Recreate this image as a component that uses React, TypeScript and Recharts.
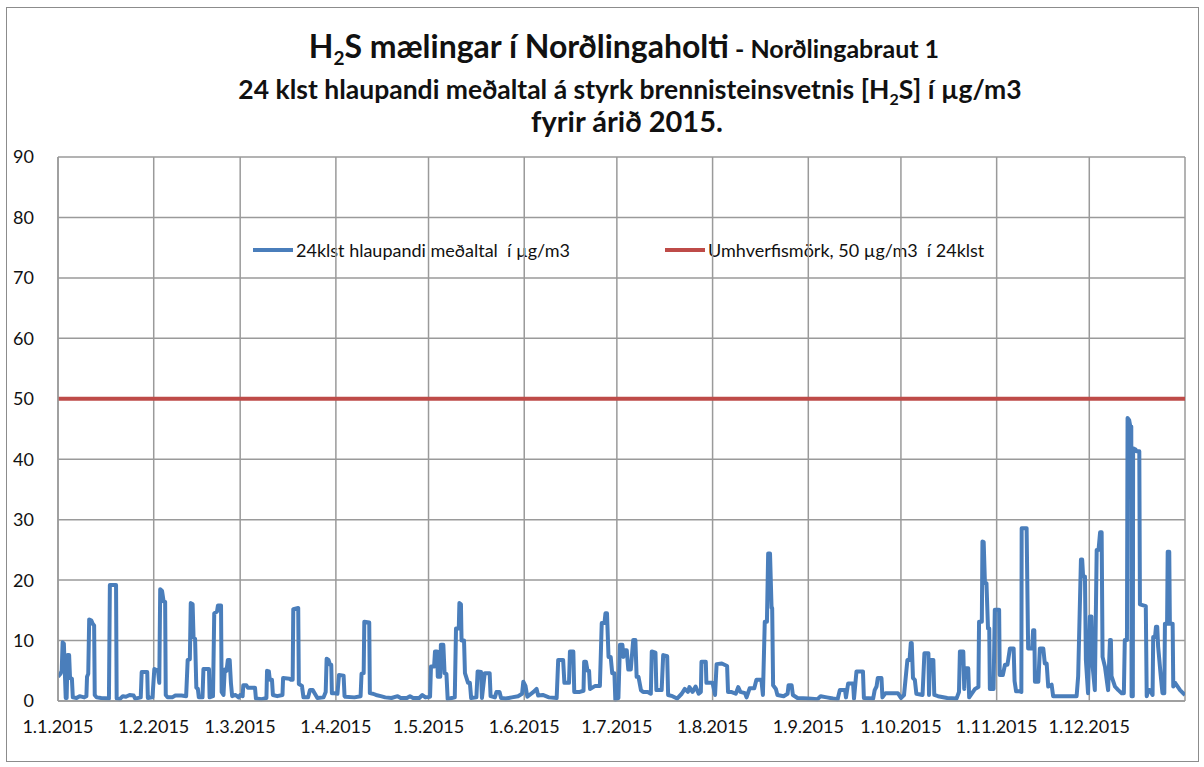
import React from 'react';
import { LineChart, Line, XAxis, YAxis, CartesianGrid } from 'recharts';

// x = day of year 2015 (0 = 1 January), y = 24 h running mean of H2S in µg/m3
const q1: [number, number][] = [
  [0, 4], [0.8, 4.5], [1.2, 5], [1.5, 9.7], [1.9, 9.5], [2.2, 5], [2.5, 0.5], [2.8, 0.5], [3.1, 7.6], [3.6, 7.6],
  [3.9, 3.8], [4.5, 3.7], [4.8, 0.6], [6, 0.5], [7, 0.8], [8.5, 0.6], [9.2, 0.8], [9.4, 4], [9.8, 4.5], [10.1, 13.5],
  [10.8, 13.3], [11.2, 12.8], [11.7, 12.5], [11.9, 1], [12.5, 0.6], [14, 0.5], [16.5, 0.4], [16.8, 19.2], [18.8, 19.2],
  [19.0, 0.4], [20, 0.3], [21, 0.8], [22, 0.7], [23.2, 1.0], [24.5, 0.9], [25, 0.4], [26.8, 0.6], [27.1, 4.8],
  [28.9, 4.8], [29.1, 0.5], [30.6, 0.6], [31.2, 5.3], [32.4, 5], [32.8, 3], [33.1, 18.5], [33.7, 18.2], [34.2, 16.5],
  [34.7, 16.4], [34.9, 1], [35.5, 0.6], [37, 0.6], [38, 0.9], [40, 0.9], [41.5, 0.8], [42, 6.8], [42.7, 6.9], [43, 16.2],
  [43.6, 16], [43.9, 10.5], [44.4, 10.3], [44.8, 2.2], [45.3, 2], [45.6, 0.6], [46.8, 0.6], [47.1, 5.3], [48.9, 5.3],
  [49.1, 0.6], [50.2, 0.8], [50.6, 14.5], [51.5, 14.8], [51.8, 15.8], [52.8, 15.8], [53, 1.5], [53.6, 1], [54, 5.2],
  [54.6, 5], [55, 6.8], [55.6, 6.8], [56, 3], [56.4, 0.8], [57.5, 1], [58.5, 0.6], [59, 1], [59.8, 0.8], [60, 2.6],
  [61, 2.6], [61.5, 2.2], [63.8, 2.2], [64.1, 0.4], [66, 0.3], [67.5, 0.5], [67.7, 5], [68.3, 4.9], [68.6, 3.5],
  [69.3, 3.5], [69.6, 1], [71, 0.8], [72.7, 1], [72.9, 3.8], [75, 3.7], [75.5, 3.5], [76, 3.5], [76.2, 15.2],
  [77.8, 15.4], [78, 2.8], [79, 2.5], [79.5, 0.6], [81, 0.6], [81.6, 1.8], [82.5, 1.8], [83.2, 1.2], [84, 0.5],
  [86, 0.6], [86.7, 1.5], [87, 7], [87.6, 6.8], [88.1, 6], [88.5, 6], [88.7, 1.3], [89.5, 1.3],
];

const q2: [number, number][] = [
  [90.5, 1.2], [91, 4.3], [92.5, 4.2], [92.8, 0.8], [93, 0.7], [96, 0.6], [98, 0.8], [98.3, 4.5], [99, 4.6], [99.2, 13.1],
  [100.8, 13], [101, 1.3], [102, 1.2], [103, 1.0], [104.5, 0.8], [106, 0.6], [108, 0.5], [110, 0.8], [111, 0.5],
  [113, 0.5], [114, 0.8], [115, 0.5], [117, 0.5], [118, 1], [119, 0.6], [120.5, 0.7], [120.8, 5.7], [121.8, 5.7],
  [122.1, 8.2], [122.8, 8.2], [123, 4], [123.8, 4], [124, 9.3], [124.8, 9.3], [125.2, 4.6], [125.8, 4.5], [126.2, 0.3],
  [127.5, 0.5], [128.5, 0.6], [128.9, 12], [129.8, 12], [130, 16.2], [130.5, 16], [130.7, 10], [131.5, 10], [131.8, 4.6],
  [132.8, 3], [133.4, 3], [133.8, 0.5], [135.5, 0.6], [135.9, 4.9], [137, 4.8], [137.3, 0.5], [138.2, 4.6], [139.8, 4.6],
  [140.1, 0.8], [141.5, 0.6], [142, 1.5], [143, 1.5], [143.5, 0.5], [145, 0.4], [147, 0.6], [149, 0.8], [150.3, 1.2],
  [150.7, 3.2], [151.4, 2.5], [152, 0.7], [154, 1.5], [155, 2], [155.5, 0.9], [157, 1], [159, 0.6], [161.5, 0.5],
  [162, 6.8], [163.6, 6.8], [164, 3], [165.5, 3], [165.8, 8.2], [166.9, 8.2], [167.2, 1.5], [169, 1.5], [170.2, 1.7],
  [170.4, 6.5], [171, 6.5], [171.5, 5], [172, 5], [172.3, 2], [174, 2.5], [175.5, 2.5], [176.1, 12.9], [177, 12.9],
  [177.3, 14.5], [177.8, 14.5], [178.3, 7.3], [179, 7.3], [179.5, 4.6], [180.2, 4.6], [180.5, 0.2],
];

const q3: [number, number][] = [
  [181.5, 0.5], [182, 9.3], [182.8, 9.3], [183.1, 7.3], [183.5, 8.4], [184.2, 8.4], [184.7, 5.2], [185.5, 5.2],
  [186.3, 10.1], [187, 10.1], [187.4, 4], [188, 4], [188.8, 1.8], [189.5, 1.5], [191, 1.5], [192, 1.2], [192.3, 8.2],
  [193.5, 8], [193.8, 1.8], [195.5, 1.8], [196, 7.6], [197.3, 7.4], [197.6, 1], [199, 0.8], [200.5, 0.4], [202, 1.2],
  [203, 2], [204, 1.5], [204.5, 2.3], [205.5, 1.5], [206.5, 2.4], [207.5, 1.2], [208.2, 1.5], [208.4, 6.5], [209.8, 6.5],
  [210, 3], [212, 3], [212.8, 1], [213.3, 6.1], [215, 6.2], [216.7, 5.8], [217, 1.5], [218, 1.5], [219.5, 1.2],
  [220.3, 2.3], [221, 1.5], [222.5, 1.3], [223, 0.6], [224, 2.1], [225.5, 2.1], [226.2, 3.5], [227.8, 3.5], [228.3, 1],
  [228.9, 13.1], [229.6, 13.1], [230, 24.4], [230.6, 24.4], [231.1, 15.4], [231.3, 15.4], [231.6, 2.6], [232.5, 2],
  [233, 1], [235, 0.8], [236.3, 1.2], [236.6, 2.6], [237.6, 2.6], [238, 1], [239.5, 0.5], [243, 0.4], [246, 0.3],
  [247, 0.8], [249, 0.6], [251, 0.4], [252.5, 0.3], [253.2, 1.8], [254.9, 1.8], [255.2, 0.6], [255.9, 2.9], [257.5, 2.9],
  [257.8, 0.4], [258.6, 4.9], [260.7, 4.9], [261, 0.5], [264, 0.4], [264.5, 1.8], [265.1, 2.4], [265.5, 3.8],
  [266.7, 3.8], [267, 0.6], [268, 1.3], [272, 1.3],
];

const q4: [number, number][] = [
  [273, 0.5], [274, 1], [275.1, 6.8], [275.8, 6.8], [276.2, 9.6], [276.5, 9.6], [276.9, 3.8], [277.5, 3.5], [278, 1.2],
  [280, 1], [280.6, 7.9], [281.9, 7.9], [282.1, 1], [282.4, 6.8], [283.5, 6.8], [283.8, 1], [285, 0.8], [288, 0.5],
  [291, 0.4], [291.8, 1.5], [292.1, 8.2], [293.2, 8.2], [293.5, 2], [293.7, 5.4], [294.8, 5.4], [295.1, 0.6], [297, 2],
  [298.1, 2.3], [298.3, 13.1], [299.2, 13.1], [299.4, 26.4], [299.8, 26.3], [300.2, 19.5], [300.7, 19.5], [301.2, 12],
  [301.6, 12], [301.8, 2], [303, 2], [303.4, 15.1], [304.8, 15.1], [305, 4.3], [306, 4.3], [306.7, 6], [307.5, 6],
  [308.3, 8.7], [309.5, 8.7], [309.8, 3.3], [310.3, 1.6], [311.5, 1.6], [312, 1.5], [312.1, 28.6], [313.7, 28.6],
  [314.2, 8.7], [315.5, 8.7], [315.8, 11.7], [316.2, 11.7], [316.4, 3.2], [317.5, 3.2], [318, 8.7], [319.1, 8.7],
  [319.6, 6.2], [320.2, 6.2], [320.7, 2.4], [321.8, 2.7], [322.3, 0.8], [329.9, 0.8], [330.4, 4.1], [331.3, 23.4],
  [331.7, 23.4], [332, 20.6], [332.6, 20.6], [332.9, 6.8], [333.6, 1.3], [334.2, 14], [334.7, 14], [335, 6.2],
  [335.8, 1.8], [336.4, 25], [337, 25], [337.5, 27.9], [338, 27.9], [338.3, 7.3], [339.1, 5.6], [340.1, 1.8],
  [340.7, 10.1], [341, 10.1], [341.2, 4.1], [342.3, 2.4], [343.4, 1.8], [344.5, 1.3], [345.2, 1.3], [345.5, 10.1],
  [346.2, 10.1], [346.4, 46.8], [346.9, 46.5], [347.3, 45.4], [347.6, 45.4], [347.7, 0.8], [348.1, 0.8], [348.2, 41.8],
  [349, 41.6], [349.3, 41.3], [350.2, 41.3], [350.4, 16], [352.3, 15.7], [352.6, 0.8], [353.1, 1.8], [353.6, 1.8],
  [354.5, 1], [354.7, 10.6], [355.3, 10.6], [355.6, 12.3], [356, 12.3], [356.3, 9], [357.1, 4.4], [357.7, 1.3],
  [358.3, 1.3], [358.5, 12.8], [359.2, 12.8], [359.4, 24.7], [359.9, 24.7], [360.1, 12.8], [361, 12.8], [361.2, 2.4],
  [361.8, 3], [363.4, 1.8], [365, 1],
];

const limitValue = 50;
const monthStarts = [0, 31, 59, 90, 120, 151, 181, 212, 243, 273, 304, 334, 365];
const monthLabels = ['1.1.2015', '1.2.2015', '1.3.2015', '1.4.2015', '1.5.2015', '1.6.2015', '1.7.2015',
  '1.8.2015', '1.9.2015', '1.10.2015', '1.11.2015', '1.12.2015', ''];
const yTicks = [0, 10, 20, 30, 40, 50, 60, 70, 80, 90];
const seriesNames = ['24klst hlaupandi meðaltal  í µg/m3', 'Umhverfismörk, 50 µg/m3  í 24klst'];

const BLUE = '#4a7ebb';
const RED = '#be4b48';
const FONT = 'Lato, "Open Sans", sans-serif';

const h2sData = [...q1, ...q2, ...q3, ...q4].map(([d, v]) => ({ d, v }));
const limitData = [{ d: 0, v: limitValue }, { d: 365, v: limitValue }];

export default function App() {
  return (
    <div style={{ position: 'absolute', left: 0, top: 0, width: 1204, height: 767, background: '#fff', fontFamily: FONT }}>
      <div style={{ position: 'absolute', left: 6, top: 7, width: 1191, height: 753, border: '1px solid #8c8c8c' }} />
      <div style={{ position: 'absolute', left: 0, top: 30, width: 1248, textAlign: 'center', fontWeight: 700, color: '#111', lineHeight: 1, whiteSpace: 'pre' }}>
        <span style={{ fontSize: 32 }}>H<sub style={{ fontSize: 19 }}>2</sub>S mælingar í Norðlingaholti</span>
        <span style={{ fontSize: 25 }}> - Norðlingabraut 1</span>
      </div>
      <div style={{ position: 'absolute', left: 0, top: 76, width: 1260, textAlign: 'center', fontWeight: 700, fontSize: 26.5, color: '#111', lineHeight: 1 }}>
        24 klst hlaupandi meðaltal á styrk brennisteinsvetnis [H<sub style={{ fontSize: 16 }}>2</sub>S] í µg/m3
      </div>
      <div style={{ position: 'absolute', left: 0, top: 106, width: 1254, textAlign: 'center', fontWeight: 700, fontSize: 29, color: '#111', lineHeight: 1 }}>
        fyrir árið 2015.
      </div>
      <div style={{ position: 'absolute', left: 253, top: 239, height: 22, fontSize: 18, color: '#111', display: 'flex', alignItems: 'center', whiteSpace: 'pre' }}>
        <span style={{ display: 'inline-block', width: 40, height: 4, background: BLUE, marginRight: 3 }} />
        <span>{seriesNames[0]}</span>
      </div>
      <div style={{ position: 'absolute', left: 665, top: 239, height: 22, fontSize: 18, color: '#111', display: 'flex', alignItems: 'center', whiteSpace: 'pre' }}>
        <span style={{ display: 'inline-block', width: 40, height: 4, background: RED, marginRight: 3 }} />
        <span>{seriesNames[1]}</span>
      </div>
      <div style={{ position: 'absolute', left: 0, top: 0 }}>
        <LineChart width={1204} height={767} margin={{ top: 157, right: 19, bottom: 0, left: 0 }}>
          <CartesianGrid stroke="#9a9a9a" strokeWidth={1.5} horizontal vertical />
          <XAxis
            dataKey="d"
            type="number"
            domain={[0, 365]}
            ticks={monthStarts}
            tickFormatter={(v: number) => monthLabels[monthStarts.indexOf(v)] ?? ''}
            height={66}
            axisLine={{ stroke: '#9a9a9a', strokeWidth: 1.5 }}
            tickLine={false}
            tick={{ fill: '#111', fontSize: 18, fontFamily: FONT }}
            tickMargin={13}
            interval={0}
            allowDataOverflow
          />
          <YAxis
            type="number"
            domain={[0, 90]}
            ticks={yTicks}
            width={58}
            axisLine={{ stroke: '#9a9a9a', strokeWidth: 1.5 }}
            tickLine={false}
            tick={{ fill: '#111', fontSize: 18, fontFamily: FONT }}
            tickMargin={18}
            interval={0}
          />
          <Line
            data={limitData}
            dataKey="v"
            name={seriesNames[1]}
            stroke={RED}
            strokeWidth={4}
            dot={false}
            isAnimationActive={false}
          />
          <Line
            data={h2sData}
            dataKey="v"
            name={seriesNames[0]}
            stroke={BLUE}
            strokeWidth={4}
            strokeLinejoin="round"
            dot={false}
            isAnimationActive={false}
          />
        </LineChart>
      </div>
    </div>
  );
}
